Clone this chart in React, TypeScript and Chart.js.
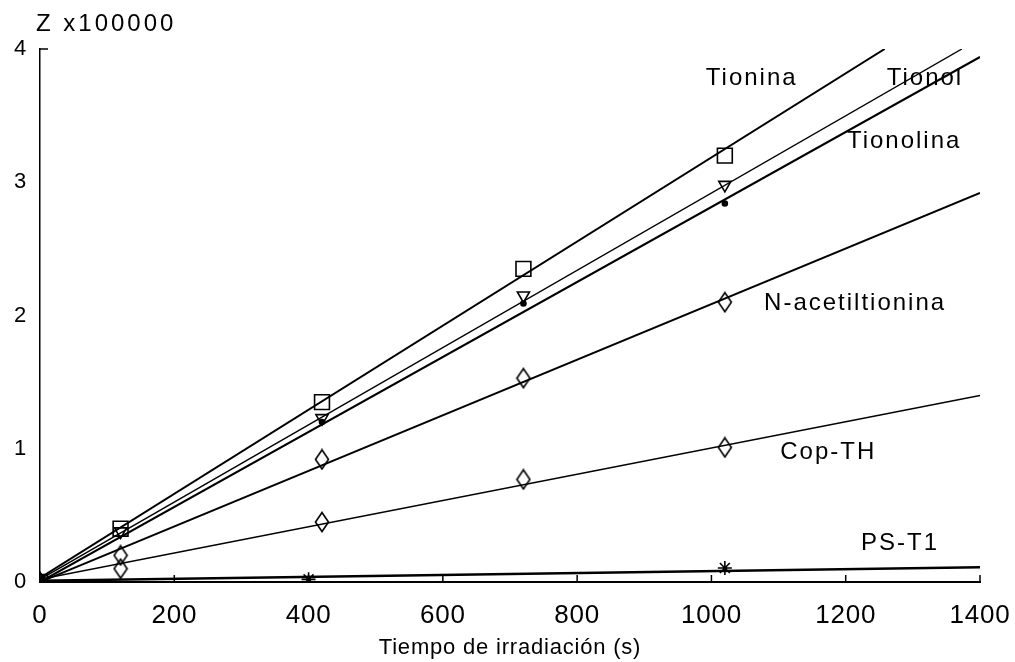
import React, { useEffect, useRef } from "react";
import { Chart, registerables } from "chart.js";

Chart.register(...registerables);

// ---- data (Z x100000 vs irradiation time in s) ----
const tioninaT = [0, 120, 420, 720, 1020];
const tioninaZ = [0.0, 0.4, 1.35, 2.35, 3.2];
const tionolT = [120, 420, 720, 1020];
const tionolZ = [0.38, 1.23, 2.15, 2.98];
const tionolinaT = [420, 720, 1020];
const tionolinaZ = [1.2, 2.09, 2.84];
const nAcetilT = [0, 120, 420, 720, 1020];
const nAcetilZ = [0.0, 0.2, 0.92, 1.53, 2.1];
const copThT = [0, 120, 420, 720, 1020];
const copThZ = [0.0, 0.1, 0.45, 0.77, 1.01];
const psT1T = [0, 400, 1020];
const psT1Z = [0.0, 0.02, 0.105];

// fitted straight lines (start / end)
const tioninaFitT = [0, 1258];
const tioninaFitZ = [0.03, 4.0];
const tionolFitT = [0, 1373];
const tionolFitZ = [0.02, 4.0];
const tionolinaFitT = [0, 1400];
const tionolinaFitZ = [0.0, 3.94];
const nAcetilFitT = [0, 1400];
const nAcetilFitZ = [0.0, 2.92];
const copThFitT = [0, 1400];
const copThFitZ = [0.02, 1.4];
const psT1FitT = [0, 1400];
const psT1FitZ = [0.01, 0.11];

// series annotations
const seriesLabels = ["Tionina", "Tionol", "Tionolina", "N-acetiltionina", "Cop-TH", "PS-T1"];
const labelT = [1060, 1318, 1287, 1214, 1174, 1281];
const labelZ = [3.78, 3.78, 3.31, 2.09, 0.97, 0.29];

const xTickStep = 200;
const yTickStep = 1;
const xMax = 1400;
const yMax = 4;
const yUnitLabel = "Z x100000";
const xTitle = "Tiempo de irradiación (s)";

const FONT = "'Liberation Sans', Arial, sans-serif";

const pts = (t: number[], z: number[]) => t.map((x, i) => ({ x, y: z[i] }));

function makeDiamond(): HTMLCanvasElement {
  const c = document.createElement("canvas");
  c.width = 16;
  c.height = 22;
  const g = c.getContext("2d")!;
  g.strokeStyle = "#000";
  g.lineWidth = 1.6;
  g.beginPath();
  g.moveTo(8, 1.5);
  g.lineTo(14.5, 11);
  g.lineTo(8, 20.5);
  g.lineTo(1.5, 11);
  g.closePath();
  g.stroke();
  return c;
}

export default function App() {
  const ref = useRef<HTMLCanvasElement | null>(null);

  useEffect(() => {
    const canvas = ref.current;
    if (!canvas) return;
    const diamond = makeDiamond();

    const fitLine = (t: number[], z: number[], w: number) => ({
      data: pts(t, z),
      showLine: true,
      borderColor: "#000",
      borderWidth: w,
      pointRadius: 0,
      fill: false,
    });
    const markers = (t: number[], z: number[], style: any, r: number, extra: any = {}) => ({
      data: pts(t, z),
      showLine: false,
      pointStyle: style,
      pointRadius: r,
      pointBorderColor: "#000",
      pointBackgroundColor: "rgba(0,0,0,0)",
      pointBorderWidth: 1.6,
      ...extra,
    });

    const spacing = {
      id: "spacing",
      beforeDraw(chart: any) {
        (chart.ctx as any).letterSpacing = "0.8px";
      },
    };

    const overlay = {
      id: "overlay",
      afterDraw(chart: any) {
        const ctx = chart.ctx;
        const xs = chart.scales.x;
        const ys = chart.scales.y;
        const ca = chart.chartArea;
        ctx.save();
        ctx.strokeStyle = "#000";
        ctx.lineWidth = 1.5;
        // inward ticks on x axis
        for (let v = xTickStep; v <= xMax; v += xTickStep) {
          const px = xs.getPixelForValue(v);
          ctx.beginPath();
          ctx.moveTo(px, ca.bottom);
          ctx.lineTo(px, ca.bottom - 7);
          ctx.stroke();
        }
        // top stub on y axis
        const py = ys.getPixelForValue(yMax);
        ctx.beginPath();
        ctx.moveTo(ca.left, py);
        ctx.lineTo(ca.left + 8, py);
        ctx.stroke();

        ctx.fillStyle = "#000";
        // unit label
        ctx.font = `24px ${FONT}`;
        (ctx as any).letterSpacing = "3px";
        ctx.textAlign = "left";
        ctx.textBaseline = "middle";
        ctx.fillText(yUnitLabel, 36, 24);
        // series labels
        (ctx as any).letterSpacing = "2px";
        ctx.textAlign = "center";
        seriesLabels.forEach((s, i) => {
          ctx.fillText(s, xs.getPixelForValue(labelT[i]), ys.getPixelForValue(labelZ[i]));
        });
        ctx.restore();
      },
    };

    const chart = new Chart(canvas, {
      type: "scatter",
      data: {
        datasets: [
          fitLine(tioninaFitT, tioninaFitZ, 2),
          fitLine(tionolFitT, tionolFitZ, 1.4),
          fitLine(tionolinaFitT, tionolinaFitZ, 2),
          fitLine(nAcetilFitT, nAcetilFitZ, 2),
          fitLine(copThFitT, copThFitZ, 1.6),
          fitLine(psT1FitT, psT1FitZ, 2.5),
          markers(tioninaT, tioninaZ, "rect", 10.5),
          markers(tionolT, tionolZ, "triangle", 7, { rotation: 180 }),
          markers(tionolinaT, tionolinaZ, "circle", 2.5, { pointBackgroundColor: "#000" }),
          markers(nAcetilT, nAcetilZ, diamond, 10),
          markers(copThT, copThZ, diamond, 10),
          markers(psT1T, psT1Z, "star", 7),
        ] as any,
      },
      options: {
        animation: false,
        responsive: false,
        events: [],
        layout: { padding: { top: 49, right: 35, left: 0, bottom: 0 } },
        plugins: { legend: { display: false }, tooltip: { enabled: false } },
        scales: {
          x: {
            type: "linear",
            min: 0,
            max: xMax,
            afterFit: (s: any) => {
              s.height = 80;
              s.paddingLeft = 0;
              s.paddingRight = 0;
            },
            ticks: {
              stepSize: xTickStep,
              color: "#000",
              padding: 18,
              maxRotation: 0,
              callback: (v: any) => String(v),
              font: { family: FONT, size: 26 },
            },
            grid: { display: false, drawTicks: false },
            border: { display: true, color: "#000", width: 2 },
            title: {
              display: true,
              text: xTitle,
              color: "#000",
              font: { family: FONT, size: 22 },
              padding: { top: 0, bottom: 1 },
            },
          },
          y: {
            type: "linear",
            min: 0,
            max: yMax,
            afterFit: (s: any) => {
              s.width = 40;
            },
            ticks: {
              stepSize: yTickStep,
              color: "#000",
              padding: 13,
              callback: (v: any) => String(v),
              font: { family: FONT, size: 22 },
            },
            grid: { display: false, drawTicks: false },
            border: { display: true, color: "#000", width: 1.5 },
          },
        },
      },
      plugins: [spacing, overlay],
    });
    return () => chart.destroy();
  }, []);

  return (
    <div style={{ position: "fixed", left: 0, top: 0, width: 1015, height: 662, background: "#fff" }}>
      <canvas ref={ref} width={1015} height={662} style={{ width: 1015, height: 662, display: "block" }} />
    </div>
  );
}
